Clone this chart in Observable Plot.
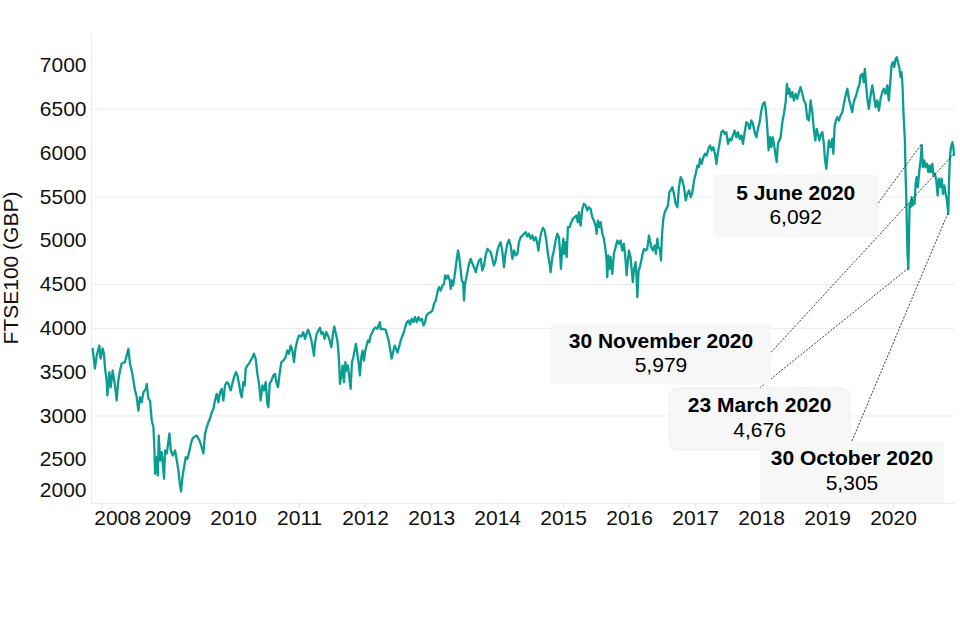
<!DOCTYPE html>
<html>
<head>
<meta charset="utf-8">
<script src="https://cdn.jsdelivr.net/npm/d3@7"></script>
<script src="https://cdn.jsdelivr.net/npm/@observablehq/plot@0.6"></script>
<style>
  html, body { margin: 0; padding: 0; background: #ffffff; }
  #chart svg { display: block; }
</style>
</head>
<body>
<div id="chart"></div>
<script>
// ---------- DATA ----------
// FTSE100 closing level; time given as decimal year
const ftsePoints = [
  [2007.864,3766],[2007.899,3541],[2007.925,3689],[2007.965,3803],[2007.985,3655],[2008.015,3769],[2008.035,3712],[2008.050,3556],[2008.076,3404],[2008.087,3233],[2008.117,3499],[2008.137,3327],[2008.167,3518],[2008.202,3347],[2008.228,3176],[2008.253,3404],[2008.278,3518],[2008.303,3598],[2008.353,3613],[2008.379,3689],[2008.405,3766],[2008.429,3598],[2008.455,3518],[2008.481,3404],[2008.505,3290],[2008.531,3213],[2008.556,3061],[2008.581,3213],[2008.606,3156],[2008.632,3270],[2008.672,3309],[2008.682,3366],[2008.708,3195],[2008.732,3176],[2008.758,2947],[2008.784,2871],[2008.799,2605],[2008.808,2339],[2008.834,2528],[2008.849,2319],[2008.864,2776],[2008.884,2491],[2008.909,2585],[2008.925,2456],[2008.944,2285],[2008.959,2605],[2008.985,2571],
  [2009.026,2799],[2009.046,2605],[2009.076,2548],[2009.111,2605],[2009.137,2491],[2009.162,2376],[2009.187,2205],[2009.202,2137],[2009.223,2300],[2009.247,2414],[2009.273,2528],[2009.299,2510],[2009.329,2605],[2009.364,2719],[2009.390,2757],[2009.440,2776],[2009.481,2719],[2009.515,2642],[2009.541,2571],[2009.565,2795],[2009.591,2871],[2009.617,2928],[2009.641,2970],[2009.667,3042],[2009.693,3081],[2009.717,3176],[2009.743,3252],[2009.768,3156],[2009.793,3270],[2009.818,3309],[2009.844,3176],[2009.868,3347],[2009.894,3385],[2009.920,3366],[2009.955,3290],[2009.985,3385],
  [2010.005,3442],[2010.035,3499],[2010.056,3461],[2010.081,3366],[2010.106,3252],[2010.122,3213],[2010.147,3385],[2010.167,3347],[2010.182,3538],[2010.208,3575],[2010.232,3595],[2010.258,3632],[2010.284,3670],[2010.308,3709],[2010.334,3652],[2010.359,3480],[2010.384,3366],[2010.409,3176],[2010.435,3347],[2010.459,3290],[2010.485,3385],[2010.511,3138],[2010.526,3099],[2010.546,3366],[2010.572,3404],[2010.602,3461],[2010.626,3480],[2010.647,3385],[2010.672,3327],[2010.702,3518],[2010.723,3613],[2010.753,3632],[2010.788,3670],[2010.814,3746],[2010.838,3709],[2010.864,3803],[2010.890,3746],[2010.914,3613],[2010.940,3784],[2010.965,3861],[2010.990,3918],
  [2011.026,3906],[2011.056,3955],[2011.081,3880],[2011.106,3937],[2011.126,3983],[2011.152,3937],[2011.178,3861],[2011.197,3784],[2011.217,3689],[2011.232,3823],[2011.258,3937],[2011.284,3975],[2011.308,4006],[2011.329,3937],[2011.353,3955],[2011.379,3880],[2011.405,3955],[2011.429,3918],[2011.455,3861],[2011.481,3784],[2011.505,3937],[2011.526,4020],[2011.550,3937],[2011.572,3861],[2011.587,3746],[2011.602,3556],[2011.611,3366],[2011.632,3461],[2011.652,3575],[2011.672,3385],[2011.693,3613],[2011.712,3518],[2011.732,3575],[2011.753,3442],[2011.773,3309],[2011.793,3613],[2011.814,3670],[2011.834,3746],[2011.853,3823],[2011.875,3709],[2011.894,3613],[2011.914,3461],[2011.935,3670],[2011.955,3746],[2011.975,3632],[2011.996,3746],
  [2012.015,3803],[2012.035,3861],[2012.056,3841],[2012.076,3918],[2012.102,3955],[2012.126,3994],[2012.152,4012],[2012.178,3994],[2012.197,4032],[2012.217,4070],[2012.228,3992],[2012.262,3994],[2012.303,3983],[2012.349,3861],[2012.394,3655],[2012.440,3803],[2012.485,3724],[2012.531,3861],[2012.576,3952],[2012.617,4058],[2012.647,4089],[2012.672,4043],[2012.697,4108],[2012.723,4070],[2012.747,4127],[2012.773,4070],[2012.799,4127],[2012.823,4089],[2012.849,4108],[2012.875,4032],[2012.899,4070],[2012.920,4146],[2012.950,4172],[2012.985,4184],
  [2013.011,4203],[2013.035,4280],[2013.061,4317],[2013.087,4412],[2013.111,4469],[2013.137,4431],[2013.162,4488],[2013.187,4508],[2013.202,4603],[2013.223,4565],[2013.247,4603],[2013.273,4546],[2013.288,4451],[2013.303,4546],[2013.323,4488],[2013.344,4583],[2013.364,4697],[2013.384,4812],[2013.399,4888],[2013.414,4831],[2013.435,4697],[2013.455,4546],[2013.475,4526],[2013.490,4317],[2013.505,4508],[2013.526,4583],[2013.546,4660],[2013.565,4736],[2013.591,4793],[2013.617,4736],[2013.641,4697],[2013.667,4640],[2013.693,4717],[2013.717,4774],[2013.743,4793],[2013.768,4660],[2013.793,4717],[2013.818,4831],[2013.844,4907],[2013.868,4888],[2013.894,4869],[2013.920,4793],[2013.944,4717],[2013.970,4774],[2013.996,4888],
  [2014.020,4945],[2014.046,4983],[2014.072,4869],[2014.096,4697],[2014.122,4869],[2014.147,4965],[2014.172,5010],[2014.197,4945],[2014.223,4793],[2014.247,4888],[2014.273,4831],[2014.299,4850],[2014.323,4983],[2014.349,5040],[2014.375,5059],[2014.399,5079],[2014.425,5097],[2014.450,5048],[2014.475,5079],[2014.500,5022],[2014.526,5059],[2014.550,5002],[2014.576,5040],[2014.602,4965],[2014.617,4888],[2014.637,5002],[2014.662,5097],[2014.687,5147],[2014.712,5116],[2014.738,5002],[2014.762,4850],[2014.788,4736],[2014.803,4640],[2014.829,4812],[2014.853,4888],[2014.879,5002],[2014.905,5079],[2014.929,5040],[2014.944,4888],[2014.959,4679],[2014.981,4926],[2014.996,5022],
  [2015.011,4850],[2015.031,4983],[2015.046,4812],[2015.065,5154],[2015.091,5154],[2015.117,5211],[2015.141,5250],[2015.167,5268],[2015.193,5288],[2015.217,5211],[2015.232,5325],[2015.258,5173],[2015.284,5364],[2015.308,5421],[2015.334,5402],[2015.359,5345],[2015.384,5382],[2015.409,5364],[2015.435,5268],[2015.459,5230],[2015.485,5173],[2015.500,5079],[2015.520,5230],[2015.541,5154],[2015.561,5211],[2015.587,5079],[2015.611,5022],[2015.637,4888],[2015.652,4774],[2015.662,4583],[2015.678,4831],[2015.697,4679],[2015.712,4812],[2015.738,4622],[2015.762,4850],[2015.788,4926],[2015.814,5002],[2015.838,4965],[2015.864,5002],[2015.890,4888],[2015.914,4965],[2015.940,4774],[2015.955,4603],[2015.975,4774],[2015.990,4888],
  [2016.015,4812],[2016.031,4679],[2016.050,4526],[2016.065,4660],[2016.091,4754],[2016.106,4583],[2016.117,4355],[2016.137,4660],[2016.156,4697],[2016.178,4774],[2016.197,4850],[2016.217,4907],[2016.243,4888],[2016.268,4907],[2016.293,5059],[2016.308,5002],[2016.329,4926],[2016.353,4888],[2016.379,4945],[2016.399,4850],[2016.420,5022],[2016.435,4926],[2016.459,4907],[2016.475,4774],[2016.490,5059],[2016.511,5250],[2016.531,5325],[2016.556,5364],[2016.581,5402],[2016.602,5554],[2016.622,5573],[2016.647,5611],[2016.672,5535],[2016.697,5421],[2016.723,5382],[2016.747,5611],[2016.773,5725],[2016.799,5687],[2016.823,5611],[2016.849,5459],[2016.875,5535],[2016.899,5573],[2016.925,5497],[2016.950,5554],[2016.975,5687],
  [2017.000,5764],[2017.026,5858],[2017.050,5839],[2017.065,5935],[2017.091,5878],[2017.117,5953],[2017.141,5992],[2017.167,5973],[2017.193,6049],[2017.217,6087],[2017.243,6030],[2017.268,6067],[2017.293,5992],[2017.314,5878],[2017.338,6010],[2017.364,6124],[2017.390,6239],[2017.414,6258],[2017.440,6220],[2017.465,6239],[2017.490,6106],[2017.515,6163],[2017.541,6144],[2017.565,6201],[2017.591,6258],[2017.617,6181],[2017.641,6239],[2017.667,6163],[2017.693,6201],[2017.717,6106],[2017.743,6239],[2017.768,6353],[2017.793,6334],[2017.818,6277],[2017.844,6372],[2017.868,6334],[2017.894,6239],[2017.920,6181],[2017.944,6277],[2017.970,6353],[2017.996,6486],
  [2018.020,6563],[2018.046,6581],[2018.061,6506],[2018.076,6391],[2018.091,6220],[2018.106,6030],[2018.126,6181],[2018.147,6067],[2018.167,6181],[2018.187,6106],[2018.208,5992],[2018.228,5896],[2018.247,6106],[2018.268,6144],[2018.288,6181],[2018.314,6353],[2018.338,6449],[2018.364,6581],[2018.384,6791],[2018.399,6677],[2018.420,6734],[2018.440,6638],[2018.465,6695],[2018.490,6600],[2018.515,6677],[2018.541,6620],[2018.565,6695],[2018.591,6752],[2018.617,6677],[2018.641,6600],[2018.667,6563],[2018.693,6391],[2018.717,6372],[2018.743,6600],[2018.768,6467],[2018.793,6258],[2018.814,6144],[2018.834,6277],[2018.853,6220],[2018.875,6144],[2018.894,6201],[2018.920,6239],[2018.944,6106],[2018.959,5935],[2018.981,5821],[2018.996,5953],
  [2019.020,6144],[2019.046,6067],[2019.072,6163],[2019.087,5992],[2019.106,6296],[2019.126,6372],[2019.147,6410],[2019.172,6372],[2019.197,6429],[2019.223,6467],[2019.247,6563],[2019.273,6657],[2019.299,6734],[2019.323,6620],[2019.349,6543],[2019.375,6467],[2019.390,6563],[2019.414,6620],[2019.440,6677],[2019.459,6734],[2019.485,6791],[2019.500,6886],[2019.526,6905],[2019.550,6809],[2019.565,6962],[2019.587,6752],[2019.606,6600],[2019.626,6506],[2019.652,6657],[2019.678,6772],[2019.702,6657],[2019.728,6524],[2019.753,6600],[2019.778,6486],[2019.803,6620],[2019.829,6695],[2019.853,6734],[2019.879,6677],[2019.905,6772],[2019.929,6600],[2019.955,6848],[2019.970,7000],[2019.990,7038],
  [2020.011,6981],[2020.031,7076],[2020.050,7095],[2020.072,7019],[2020.087,6981],[2020.106,6866],[2020.122,6923],[2020.137,6752],[2020.147,6524],[2020.156,6372],[2020.172,6144],[2020.182,5764],[2020.193,5497],[2020.202,5154],[2020.212,4850],[2020.224,4676],[2020.232,5002],[2020.243,5421],[2020.258,5382],[2020.273,5497],[2020.288,5402],[2020.303,5459],[2020.318,5421],[2020.334,5649],[2020.349,5725],[2020.368,5611],[2020.390,5801],[2020.409,5915],[2020.426,6092],[2020.444,5839],[2020.465,5915],[2020.485,5839],[2020.505,5878],[2020.526,5782],[2020.546,5858],[2020.565,5782],[2020.587,5878],[2020.606,5744],[2020.626,5764],[2020.647,5687],[2020.667,5516],[2020.687,5707],[2020.708,5611],[2020.728,5707],[2020.747,5535],[2020.768,5630],[2020.788,5535],[2020.808,5459],[2020.828,5305],[2020.840,5687],[2020.853,5953],[2020.868,6067],[2020.890,6124],[2020.905,6067],[2020.913,5979]
];

const yTickValues = [2000, 2500, 3000, 3500, 4000, 4500, 5000, 5500, 6000, 6500, 7000];
const gridValues = [3000, 4000, 4500, 5500, 6500];
const yearLabels = [2008, 2009, 2010, 2011, 2012, 2013, 2014, 2015, 2016, 2017, 2018, 2019, 2020];
const yLabel = "FTSE100 (GBP)";

const annoDates  = ["2020-06-05", "2020-11-30", "2020-03-23", "2020-10-30"];
const annoValues = [6092, 5979, 4676, 5305];
const annoTitles = ["5 June 2020", "30 November 2020", "23 March 2020", "30 October 2020"];

// ---------- LAYOUT / STYLE ----------
const FONT = '"Liberation Sans", Arial, Helvetica, sans-serif';
const TEAL = "#0a9d91";
const INK = "#111111";
const GRID = "#ebebeb";
// callout boxes: pixel offsets of box from the annotated point
const annoLayout = [
  {dx: -208,   dy: 30.5,  w: 165, h: 62, lead: "right", leadDy: 28},
  {dx: -402.4, dy: 169,   w: 220, h: 61, lead: "right", leadDy: 29},
  {dx: -238.7, dy: 119.4, w: 181, h: 62, lead: "top", border: true},
  {dx: -187.8, dy: 227.5, w: 184, h: 62, lead: "top"}
];

function fromDecimalYear(t) {
  const y = Math.floor(t);
  const a = Date.UTC(y, 0, 1), b = Date.UTC(y + 1, 0, 1);
  return new Date(a + (t - y) * (b - a));
}

const series = ftsePoints.map(([t, v]) => ({date: fromDecimalYear(t), value: v}));
const yearDates = yearLabels.map(y => new Date(Date.UTC(y, 0, 1)));
const xDomain = [new Date("2007-11-06"), new Date("2020-12-09")];

const chart = Plot.plot({
  width: 960,
  height: 640,
  marginLeft: 91,
  marginRight: 5,
  marginTop: 33,
  marginBottom: 137,
  style: {fontFamily: FONT, fontSize: "21px", color: INK, background: "#ffffff", overflow: "visible"},
  x: {type: "utc", domain: xDomain},
  y: {domain: [2000, 7365]},
  marks: [
    Plot.ruleY(gridValues, {stroke: GRID, strokeWidth: 1}),
    Plot.ruleY([2000], {stroke: GRID, strokeWidth: 1}),
    Plot.ruleX([xDomain[0]], {stroke: GRID, strokeWidth: 1}),
    Plot.axisY(yTickValues.filter(v => v !== 2000), {tickSize: 0, tickPadding: 5, label: null, fontSize: 21, fill: INK, tickFormat: d => String(d)}),
    Plot.text([2000], {y: d => d, text: d => String(d), frameAnchor: "left", textAnchor: "end", dx: -5, dy: -13, fontSize: 21, fill: INK}),
    Plot.axisX(yearDates, {tickSize: 5, stroke: "#e4e4e4", tickFormat: () => "", label: null}),
    Plot.text(yearDates.slice(1), {x: d => d, text: d => String(d.getUTCFullYear()), frameAnchor: "bottom", dy: 21, fontSize: 21, fill: INK}),
    Plot.text(yearDates.slice(0, 1), {x: d => d, text: d => String(d.getUTCFullYear()), frameAnchor: "bottom", dy: 21, dx: 16, fontSize: 21, fill: INK}),
    Plot.line(series, {x: "date", y: "value", stroke: TEAL, strokeWidth: 2.3, strokeLinejoin: "round"})
  ]
});

document.getElementById("chart").appendChild(chart);

// ---------- y-axis title and callouts (placed through the chart's own scales) ----------
const svg = d3.select(chart);
const xs = chart.scale("x"), ys = chart.scale("y");
const xf = xs.apply ? (d => xs.apply(d)) : d3.scaleUtc().domain(xs.domain).range(xs.range);
const yf = ys.apply ? (d => ys.apply(d)) : d3.scaleLinear().domain(ys.domain).range(ys.range);

const [yTop, yBottom] = [yf(ys.domain[1]), yf(ys.domain[0])];
svg.append("text")
  .attr("transform", `translate(17.5,${(yTop + yBottom) / 2}) rotate(-90)`)
  .attr("text-anchor", "middle")
  .attr("font-family", FONT).attr("font-size", 21).attr("fill", INK)
  .text(yLabel);

const callouts = annoDates.map((d, i) => {
  const px = xf(new Date(d)), py = yf(annoValues[i]);
  const L = annoLayout[i];
  const left = px + L.dx, top = py + L.dy;
  const start = L.lead === "top" ? [left + L.w / 2, top] : [left + L.w, top + L.leadDy];
  return {px, py, left, top, start, L, title: annoTitles[i], value: d3.format(",")(annoValues[i])};
});

const g = svg.append("g").attr("font-family", FONT);
g.selectAll("line.lead").data(callouts).join("line")
  .attr("x1", c => c.start[0]).attr("y1", c => c.start[1])
  .attr("x2", c => c.px).attr("y2", c => c.py)
  .attr("stroke", "#222").attr("stroke-width", 0.9).attr("stroke-dasharray", "2,1.5");

callouts.forEach(c => {
  const b = g.append("g");
  b.append("rect")
    .attr("x", c.left).attr("y", c.top).attr("width", c.L.w).attr("height", c.L.h)
    .attr("rx", c.L.border ? 8 : 0)
    .attr("fill", "#f7f7f7")
    .attr("stroke", c.L.border ? "#dcdcdc" : "none")
    .attr("stroke-dasharray", c.L.border ? "1,1.5" : null);
  b.append("text")
    .attr("x", c.left + c.L.w / 2).attr("y", c.top + 24.5)
    .attr("text-anchor", "middle").attr("font-size", 21).attr("font-weight", "bold").attr("fill", "#000")
    .text(c.title);
  b.append("text")
    .attr("x", c.left + c.L.w / 2).attr("y", c.top + 49)
    .attr("text-anchor", "middle").attr("font-size", 21).attr("fill", "#000")
    .text(c.value);
});
</script>
</body>
</html>
